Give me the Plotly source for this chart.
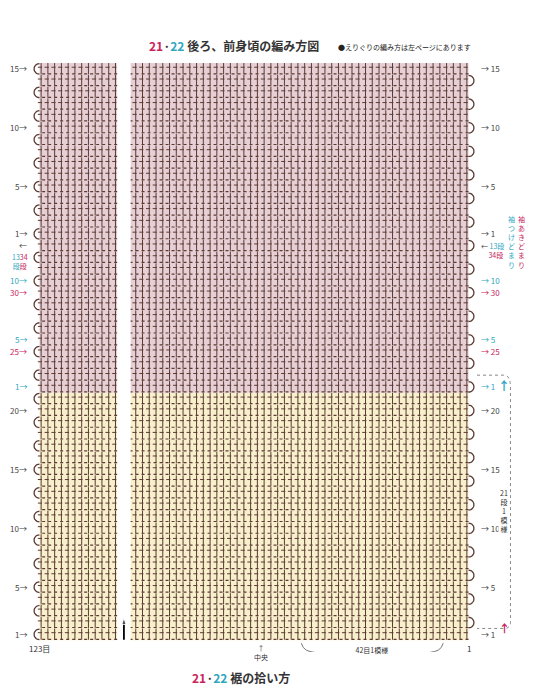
import plotly.graph_objects as go
import numpy as np

# ---- data ----
n_stitches = 123
gap_after = 100          # chart is cut between stitch 100 and 101
yellow_rows = 21         # hem section, 1 pattern = 21 rows
pink_low_rows = 13       # up to armhole (13段 / 34段)
pink_up_rows = 15        # above armhole
yellow_labels = [1, 5, 10, 15, 20]
low_cyan_labels = [1, 5, 10]
low_mag_labels = [25, 30]
up_labels = [1, 5, 10, 15]

PINK = '#e6d0d6'
YEL = '#f8f0cc'
INK = '#5b3b33'
CYAN = '#2fa7bf'
MAG = '#c8245c'
GAP = 4

def xpos(st):
    # stitch 1 on the right, 123 on the left
    st = np.asarray(st, dtype=float)
    return np.where(st > gap_after, st + GAP, st)

total_rows = yellow_rows + pink_low_rows + pink_up_rows
xmax = n_stitches + GAP + 0.5
X0, X1 = xmax + 2.5, -2.0    # axis range (reversed)

fig = go.Figure()

def band(y0, y1, col):
    for a, b in [(0.5, gap_after + 0.5), (gap_after + GAP + 0.5, xmax)]:
        fig.add_trace(go.Scatter(x=[a, b, b, a, a], y=[y0, y0, y1, y1, y0], fill='toself',
                                 fillcolor=col, line=dict(width=0), mode='lines',
                                 hoverinfo='skip', showlegend=False))

band(0, yellow_rows, YEL)
band(yellow_rows, total_rows, PINK)

# stitches (double crochet ticks)
st = np.arange(1, n_stitches + 1, 2)
xs, ys = [], []
for r in range(total_rows):
    for s in st:
        xs.append(float(xpos(s)))
        ys.append(r + 0.52)
fig.add_trace(go.Scatter(x=xs, y=ys, mode='markers',
                         marker=dict(symbol='line-ns', size=8, line=dict(width=1, color=INK)),
                         hoverinfo='skip', showlegend=False))
fig.add_trace(go.Scatter(x=np.array(xs) + 0.35, y=np.array(ys) + 0.12, mode='markers',
                         marker=dict(symbol='line-ew', size=3, line=dict(width=1, color=INK)),
                         hoverinfo='skip', showlegend=False))
# chain lines at row bottoms
for r in range(total_rows + 1):
    for a, b in [(0.5, gap_after + 0.5), (gap_after + GAP + 0.5, xmax)]:
        fig.add_trace(go.Scatter(x=[a, b], y=[r + 0.08, r + 0.08], mode='lines',
                                 line=dict(color=INK, width=1.2, dash='dot'),
                                 hoverinfo='skip', showlegend=False))

# turning chains
t = np.linspace(-np.pi / 2, np.pi / 2, 15)
for r in range(total_rows):
    if r % 2 == 0:
        cx = xmax + 1.6 * np.cos(t)
    else:
        cx = 0.5 - 1.6 * np.cos(t)
    fig.add_trace(go.Scatter(x=cx, y=r + 0.5 + 0.45 * np.sin(t), mode='lines',
                             line=dict(color=INK, width=1.3), hoverinfo='skip', showlegend=False))

ann = []
def lab(side, row, text, color='#444'):
    if side == 'L':
        ann.append(dict(x=0, xref='paper', y=row, text=text + '→', xanchor='right', xshift=-2, font=dict(color=color, size=8)))
    else:
        ann.append(dict(x=1, xref='paper', y=row, text='→ ' + text, xanchor='left', xshift=2, font=dict(color=color, size=8)))

for v in yellow_labels:
    lab('L', v - 0.5, str(v)); lab('R', v - 0.5, str(v))
for v in low_cyan_labels:
    lab('L', yellow_rows + v - 0.5, str(v), CYAN); lab('R', yellow_rows + v - 0.5, str(v), CYAN)
for v in low_mag_labels:
    rr = v - 0.5
    lab('L', rr, str(v), MAG); lab('R', rr, str(v), MAG)
for v in up_labels:
    rr = yellow_rows + pink_low_rows + v - 0.5
    lab('L', rr, str(v)); lab('R', rr, str(v))
top_low = yellow_rows + pink_low_rows - 0.5
ann.append(dict(x=0, xref='paper', y=top_low, xanchor='right', xshift=-2, text='←', font=dict(size=8, color='#444')))
ann.append(dict(x=0, xref='paper', y=top_low - 0.4, xanchor='right', yanchor='top', xshift=-1,
                text='<span style="color:%s">13</span><span style="color:%s">34</span><br><span style="color:%s">段</span><span style="color:%s">段</span>' % (CYAN, MAG, CYAN, MAG),
                font=dict(size=7, color='#444')))
ann.append(dict(x=1, xref='paper', y=top_low - 0.4, xanchor='left', xshift=2,
                text='← <span style="color:%s">13段</span><br>    <span style="color:%s">34段</span>' % (CYAN, MAG), font=dict(size=7, color='#444')))
ann.append(dict(x=1, xref='paper', y=top_low + 0.3, xanchor='left', xshift=39,
                text='<br>'.join('袖あきどまり'), font=dict(size=7, color=MAG)))
ann.append(dict(x=1, xref='paper', y=top_low + 0.3, xanchor='left', xshift=29,
                text='<br>'.join('袖つけどまり'), font=dict(size=7, color=CYAN)))
ann.append(dict(x=1, xref='paper', y=yellow_rows * 0.5 + 0.5, xanchor='center', xshift=27, bgcolor='white',
                text='<br>'.join(['21', '段', '1', '模', '様']), font=dict(size=7, color='#333')))
ann.append(dict(x=xmax, y=-0.1, xanchor='center', yanchor='top', text='123目', font=dict(size=8, color='#333')))
ann.append(dict(x=0.5, y=-0.1, xanchor='center', yanchor='top', text='1', font=dict(size=8, color='#333')))
ann.append(dict(x=float(xpos(62)), y=-0.1, xanchor='center', yanchor='top', text='↑<br>中央', font=dict(size=7, color='#333')))
ann.append(dict(x=float(xpos(29)), y=-0.85, xanchor='center', yanchor='middle', text=' 42目1模様 ', bgcolor='white', font=dict(size=7, color='#333')))
ann.append(dict(x=0.455, y=1.03, xref='paper', yref='paper', xanchor='center', yanchor='middle',
                text='<b><span style="color:%s">21</span>·<span style="color:%s">22</span></b> <b>後ろ、前身頃の編み方図</b>' % (MAG, CYAN),
                font=dict(size=12, color='#333')))
ann.append(dict(x=0.99, y=1.028, xref='paper', yref='paper', xanchor='right', yanchor='middle',
                text='●えりぐりの編み方は左ページにあります', font=dict(size=7, color='#222')))
ann.append(dict(x=0.47, y=-0.043, xref='paper', yref='paper', xanchor='center', yanchor='middle',
                text='<b><span style="color:%s">21</span>·<span style="color:%s">22</span></b> <b>裾の拾い方</b>' % (MAG, CYAN),
                font=dict(size=12, color='#333')))
for a in ann:
    a.setdefault('showarrow', False)

# brackets / arrows
shapes = [
    dict(type='path', xref='paper', yref='y', path='M 1.0,%f L 1.06,%f Q 1.075,%f 1.075,%f L 1.075,%f Q 1.075,%f 1.06,%f L 1.0,%f'
         % (yellow_rows + 1.5, yellow_rows + 1.5, yellow_rows + 1.5, yellow_rows + 0.5, 1.5, 1.0, 1.0, 1.0),
         line=dict(color='#888', width=1, dash='dot')),
]
bx = [float(xpos(8)), float(xpos(9.5)), float(xpos(48.5)), float(xpos(50))]
fig.add_trace(go.Scatter(x=bx, y=[-0.25, -0.85, -0.85, -0.25],
                         mode='lines', line=dict(color='#777', width=1, shape='spline'), hoverinfo='skip', showlegend=False))
fig.add_trace(go.Scatter(x=[gap_after + GAP / 2 + 0.5] * 2, y=[0.05, 1.9], mode='lines+markers',
                         marker=dict(symbol='arrow', size=[0, 7], angleref='previous', color='black'),
                         line=dict(color='black', width=1.8), hoverinfo='skip', showlegend=False))
ann.append(dict(x=1, xref='paper', y=yellow_rows + 0.6, xanchor='center', xshift=27, text='<b>↑</b>',
                font=dict(size=12, color=CYAN), showarrow=False))
ann.append(dict(x=1, xref='paper', y=1.0, xanchor='center', xshift=27, text='<b>↑</b>',
                font=dict(size=11, color=MAG), showarrow=False))

fig.update_layout(
    width=542, height=699, margin=dict(l=23, r=73, t=55, b=55),
    paper_bgcolor='white', plot_bgcolor='white',
    font=dict(family='Noto Sans CJK JP'),
    xaxis=dict(range=[X0, X1], visible=False, autorange=False),
    yaxis=dict(range=[-1.0, total_rows], visible=False, autorange=False),
    annotations=ann, shapes=shapes,
)
fig.write_html("out.html")
